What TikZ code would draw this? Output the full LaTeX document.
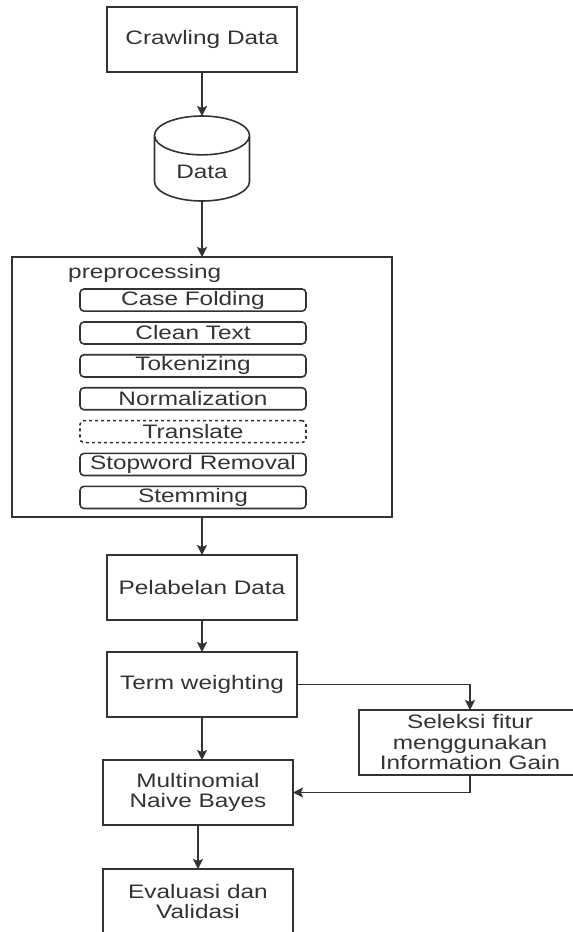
\documentclass[tikz,border=0pt]{standalone}
\usepackage{fontspec}
\setmainfont{Liberation Sans}[FakeStretch=1.25]
\usetikzlibrary{positioning}
\usetikzlibrary{shapes.geometric}
\usetikzlibrary{arrows.meta}
\definecolor{linegray}{HTML}{333333}
\tikzset{stepbox/.style={draw=linegray,line width=1.6pt,minimum width=190pt,minimum height=65pt,
            inner sep=2pt,outer sep=0pt,align=center,text=linegray,font=\fontsize{19.5pt}{20.5pt}\selectfont},
         substep/.style={stepbox,rounded corners=4pt,minimum width=226pt,minimum height=22pt},
         dbcyl/.style={stepbox,cylinder,shape border rotate=90,aspect=0.7,minimum width=95pt,minimum height=85pt},
         flow/.style={draw=linegray,line width=1.6pt,-{Stealth[length=10pt,width=10pt,inset=2pt]}},
            }

\begin{document}
\begin{tikzpicture}[x=1pt,y=-1pt]
        \clip (0,0) rectangle (573,932);
        \node[stepbox] (crawl) at (202,39.5) {Crawling Data};
        \node[dbcyl] (data) [below = 44pt of crawl] {Data};
        \node[stepbox,minimum width=380pt,minimum height=260pt] (prep) [below = 56pt of data] {};
        \node[text=linegray,font=\fontsize{19.5pt}{20.5pt}\selectfont,inner sep=0pt,anchor=west]
            (preplabel) at ([xshift=56pt,yshift=-16pt]prep.north west) {preprocessing};

        \node[substep] (fold) [below = 32pt of prep.north,xshift=-9pt] {Case Folding};
        \node[substep] (clean) [below = 10.8pt of fold] {Clean Text};
        \node[substep] (token) [below = 10.8pt of clean] {Tokenizing};
        \node[substep] (norm) [below = 10.8pt of token] {Normalization};
        \node[substep,dashed] (trans) [below = 10.8pt of norm] {Translate};
        \node[substep] (stop) [below = 10.8pt of trans] {Stopword Removal};
        \node[substep] (stem) [below = 10.8pt of stop] {Stemming};

        \node[stepbox] (label) [below = 38pt of prep] {Pelabelan Data};
        \node[stepbox] (term) [below = 32pt of label] {Term weighting};
        \node[stepbox] (mnb) [below = 43pt of term,xshift=-4pt] {Multinomial\\Naive Bayes};
        \node[stepbox] (eval) [below = 44pt of mnb] {Evaluasi dan\\Validasi};
        \node[stepbox,minimum width=222pt] (igain) at (470,742.5) {Seleksi fitur\\menggunakan\\Information Gain};

        \path[flow] (crawl) -- (data);
        \path[flow] (data) -- (prep);
        \path[flow] (prep) -- (label);
        \path[flow] (label) -- (term);
        \path[flow] (term.south) -- (term.south |- mnb.north);
        \path[flow] (mnb) -- (eval);
        \path[flow] (term.east) -| (igain.north);
        \path[flow] (igain.south) |- (mnb.east);
      \end{tikzpicture}
\end{document}
